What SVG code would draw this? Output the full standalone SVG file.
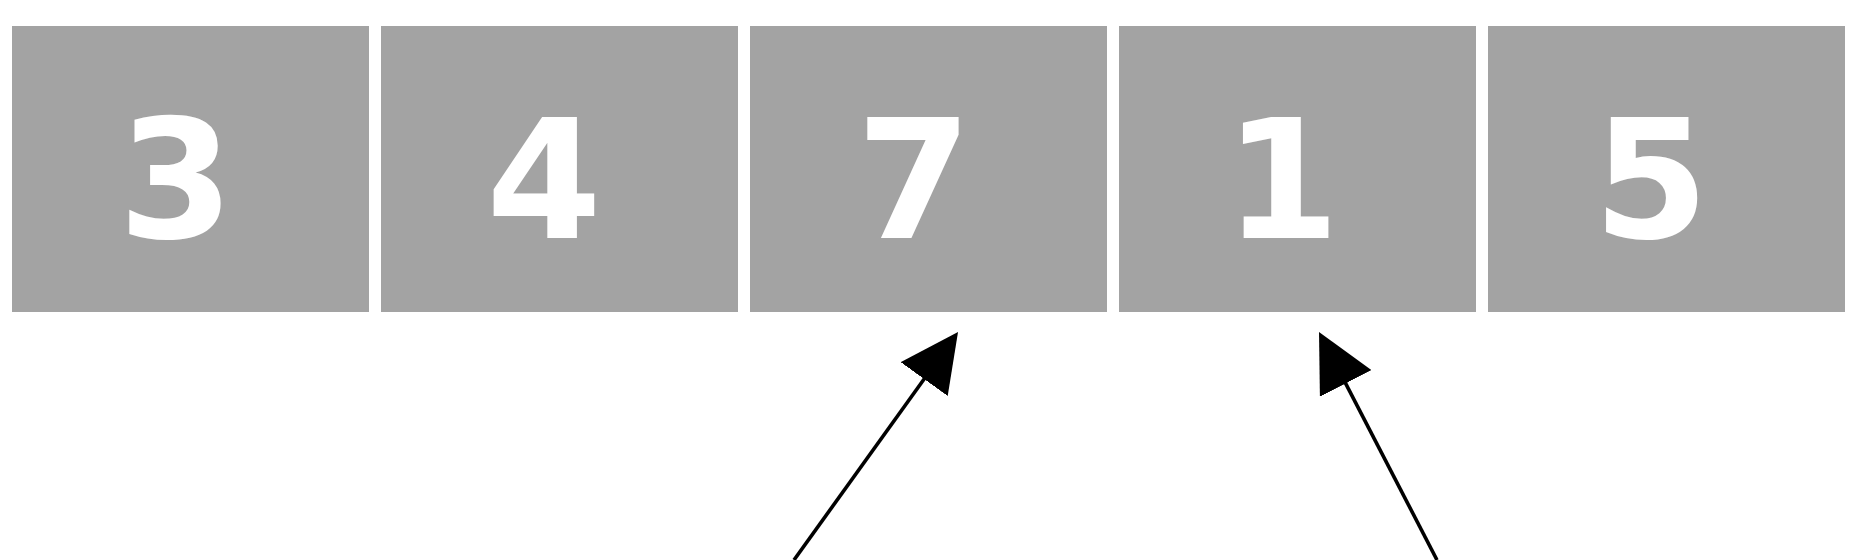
<svg xmlns="http://www.w3.org/2000/svg" width="1872" height="560" viewBox="0 0 1872 560">
<style>
.cell{fill:#a3a3a3}
.num{fill:#ffffff;font-family:"DejaVu Sans","Liberation Sans",sans-serif;font-weight:bold;font-size:166px;text-anchor:middle}
.conn{stroke:#000;stroke-width:3.6;fill:none;marker-end:url(#ah)}
</style>
<defs>
<marker id="ah" markerUnits="userSpaceOnUse" markerWidth="58" markerHeight="58" refX="28" refY="29" orient="auto">
<path d="M0,0 L58,29 L0,58 z" fill="#000"/>
</marker>
</defs>
<rect width="1872" height="560" fill="#fff"/>
<g id="n0"><rect class="cell" x="12" y="26" width="357" height="286"/><text class="num" x="176" y="238">3</text></g>
<g id="n1"><rect class="cell" x="381" y="26" width="357" height="286"/><text class="num" x="544" y="238">4</text></g>
<g id="n2"><rect class="cell" x="750" y="26" width="357" height="286"/><text class="num" x="914" y="238">7</text></g>
<g id="n3"><rect class="cell" x="1119" y="26" width="357" height="286"/><text class="num" x="1282" y="238">1</text></g>
<g id="n4"><rect class="cell" x="1488" y="26" width="357" height="286"/><text class="num" x="1651" y="238">5</text></g>
<g id="connectors">
<line class="conn" x1="794" y1="560" x2="940.5" y2="356.3"/>
<line class="conn" x1="1437" y1="560" x2="1332.8" y2="358.6"/>
</g>
</svg>
